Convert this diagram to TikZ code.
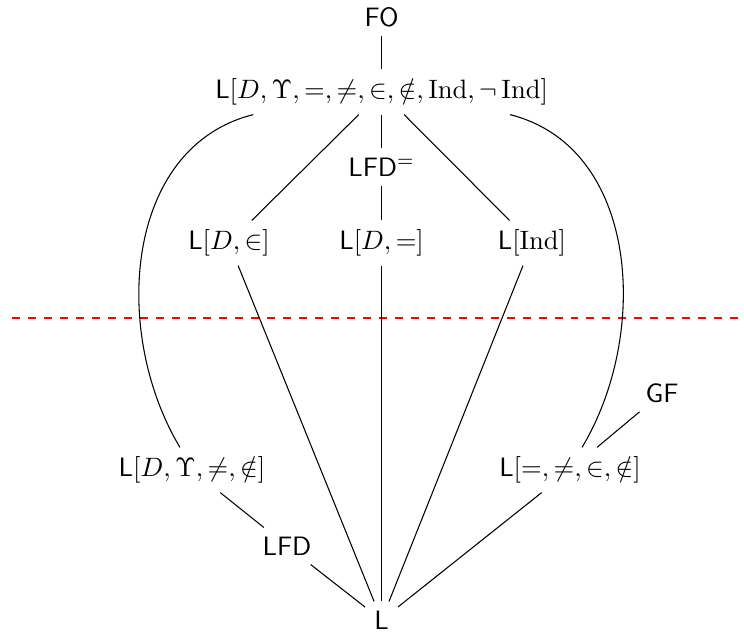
\documentclass[tikz,border=0pt]{standalone}
\usepackage{amsmath}
\begin{document}
\begin{tikzpicture}[x=0.376pt,y=-0.376pt,
  lat/.style={inner sep=3.3pt},
  conn/.style={line width=0.4pt},
  sep/.style={red,line width=1pt,dash pattern=on 3pt off 3pt}]
\useasboundingbox (0,0) rectangle (744,635);
\newcommand{\Lg}{\textsf{L}}
\node[lat] (FO)   at (381.6,17)  {\textsf{FO}};
\node[lat] (top)  at (381.6,92)  {\Lg$[D,\Upsilon,=,\neq,\in,\notin,\mathrm{Ind},\neg\,\mathrm{Ind}]$};
\node[lat] (LFDe) at (381.6,167) {\textsf{LFD}$^{=}$};
\node[lat] (LDin) at (229,243) {\Lg$[D,\in]$};
\node[lat] (LDeq) at (381.6,243) {\Lg$[D,=]$};
\node[lat] (LInd) at (532,243) {\Lg$[\mathrm{Ind}]$};
\node[lat] (GF)   at (662,393) {\textsf{GF}};
\node[lat] (L1)   at (192,470) {\Lg$[D,\Upsilon,\neq,\notin]$};
\node[lat] (L2)   at (570,470) {\Lg$[=,\neq,\in,\notin]$};
\node[lat] (LFD)  at (287,546) {\textsf{LFD}};
\node[lat] (L)    at (381.6,620) {\textsf{L}};
\draw[sep] (12,318) coordinate (sl) -- (744,318) coordinate (sr);
\draw[conn] (FO) -- (top);
\draw[conn] (top) -- (LFDe);
\draw[conn] (LFDe) -- (LDeq);
\draw[conn] (top) -- (LDin);
\draw[conn] (top) -- (LInd);
\draw[conn] (LDin) -- (L);
\draw[conn] (LDeq) -- (L);
\draw[conn] (LInd) -- (L);
\draw[conn] (L1) -- (LFD);
\draw[conn] (LFD) -- (L);
\draw[conn] (L2) -- (L);
\draw[conn] (GF) -- (L2);
\draw[conn] (top.190) to[out=194,in=121] (L1.118);
\draw[conn] (top.-10) to[out=-14,in=59] (L2.62);
\end{tikzpicture}
\end{document}
